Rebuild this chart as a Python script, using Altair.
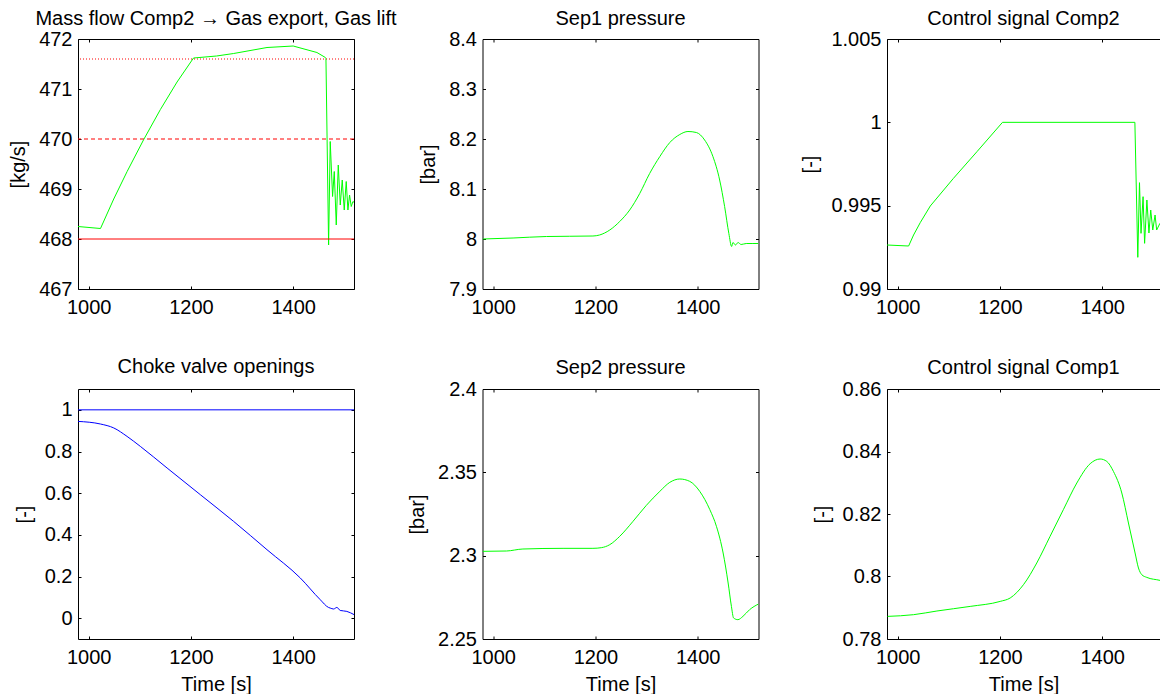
import altair as alt
import pandas as pd

# ---------------- data ----------------
XTICKS = [1000, 1200, 1400]
XMIN, XMAX = 979, 1519

flow_t = [979, 1023, 1048.9, 1075.1, 1107.6, 1140.2, 1172.8, 1205, 1250, 1283.5,
          1348.8, 1400, 1446.5, 1463, 1464.1, 1469.3, 1472.5, 1477.1, 1480.4, 1484.3,
          1488.2, 1492.1, 1496, 1499.9, 1503.8, 1507.1, 1510.3, 1513.6, 1516.9, 1519.5]
flow_v = [468.25, 468.21, 468.80, 469.35, 469.99, 470.59, 471.14, 471.62, 471.66, 471.71,
          471.83, 471.86, 471.73, 471.63, 471.61, 467.88, 469.95, 468.85, 469.35, 468.28,
          469.48, 468.68, 469.18, 468.58, 469.15, 468.58, 468.88, 468.65, 468.75, 468.73]
flow_limit_solid = [468.0]
flow_limit_dashed = [470.0]
flow_limit_dotted = [471.6]

sep1_t = [979, 1038.8, 1104, 1195, 1208, 1228, 1247.5, 1267, 1286.6, 1306,
          1326, 1345.5, 1365, 1381, 1397.4, 1413.6, 1429.8, 1443, 1452.7, 1461,
          1466.4, 1469, 1474, 1479, 1485, 1495, 1508, 1519]
sep1_v = [8.000, 8.002, 8.005, 8.006, 8.008, 8.018, 8.035, 8.058, 8.091, 8.131,
          8.165, 8.193, 8.209, 8.215, 8.213, 8.198, 8.165, 8.118, 8.065, 8.011,
          7.985, 7.993, 7.988, 7.993, 7.989, 7.991, 7.991, 7.991]

comp2_t = [979, 1021.3, 1031, 1044, 1063.7, 1109, 1155, 1205, 1464, 1469.7,
           1473, 1476, 1480, 1483, 1487.5, 1491.5, 1495, 1499, 1503.5, 1506.6,
           1513, 1519]
comp2_v = [0.99264, 0.99258, 0.99324, 0.99398, 0.99498, 0.99664, 0.99824, 1.0, 1.0, 0.99190,
           0.99638, 0.99334, 0.99554, 0.99274, 0.99534, 0.99336, 0.99474, 0.99354, 0.99444, 0.99354,
           0.99394, 0.99400]

choke1_t = [979, 1022.9, 1049, 1075, 1101, 1153.3, 1218.4, 1283.5, 1348.8, 1414,
            1453, 1469, 1472.5, 1479, 1485.6, 1492, 1505, 1519.5]
choke1_v = [0.9445, 0.932, 0.913, 0.8725, 0.8245, 0.7208, 0.5926, 0.4645, 0.3286, 0.1927,
            0.0885, 0.0516, 0.0485, 0.044, 0.0516, 0.0371, 0.0325, 0.0165]
choke2_t = [979, 1519]
choke2_v = [1.0, 1.0]

sep2_t = [979, 1026, 1058, 1136.6, 1195, 1211.6, 1228, 1247.5, 1273.5, 1299.6,
          1326, 1345.5, 1365, 1384.4, 1404, 1423.8, 1436.7, 1449.8, 1459.6, 1466,
          1470.3, 1478.7, 1488.6, 1501.6, 1519]
sep2_v = [2.3026, 2.3028, 2.3040, 2.3044, 2.3044, 2.3048, 2.3066, 2.3116, 2.3206, 2.3302,
          2.3386, 2.3440, 2.3460, 2.3446, 2.3386, 2.3276, 2.3176, 2.3016, 2.2836, 2.2696,
          2.2626, 2.2616, 2.2636, 2.2676, 2.2710]

comp1_t = [980, 1031, 1076.7, 1141.8, 1200.5, 1220, 1246, 1272, 1298, 1324,
           1350.4, 1376.5, 1396, 1409, 1422, 1438.4, 1451.4, 1464.4, 1471, 1477.5,
           1487.3, 1513.3, 1519]
comp1_v = [0.78724, 0.78778, 0.78896, 0.79043, 0.79203, 0.79312, 0.79738, 0.80432, 0.81283, 0.82138,
           0.82992, 0.83610, 0.83760, 0.83683, 0.83363, 0.82672, 0.81712, 0.80752, 0.80272, 0.80058,
           0.79971, 0.79875, 0.79850]

# ---------------- styling ----------------
FONT = "Liberation Sans"
FS = 20
TICK = 3
W = 276
W3 = 273
H = 250


def df(t, v):
    return pd.DataFrame({"t": t, "v": v})


def common_axis(**kw):
    base = dict(
        grid=True, gridDash=[TICK, 3000], gridColor="black", gridOpacity=1, gridWidth=1,
        ticks=False, tickSize=0, domain=True, domainColor="black", domainWidth=1,
        labelFont=FONT, labelFontSize=FS, labelColor="black",
        titleFont=FONT, titleFontSize=FS, titleFontWeight="normal", titleColor="black",
        format=".6~g",
    )
    base.update(kw)
    return alt.Axis(**base)


def panel(series, ydomain, yticks, ytitle, title, xtitle, width, xmax, title_offset,
          right_axis=True):
    xs = alt.Scale(domain=[XMIN, xmax], nice=False, zero=False)
    ys = alt.Scale(domain=ydomain, nice=False, zero=False)
    layers = []
    for i, (data, color, dash, interp, kind) in enumerate(series):
        if i == 0:
            xa = common_axis(orient="bottom", values=XTICKS, title=xtitle, labelPadding=8,
                             titlePadding=7)
            ya = common_axis(orient="left", values=yticks, title=ytitle, labelPadding=6,
                             titlePadding=10)
        else:
            xa = None
            ya = None
        props = dict(color=color, strokeWidth=1, clip=True)
        if dash:
            props["strokeDash"] = dash
        if kind == "rule":
            layer = alt.Chart(data).mark_rule(**props).encode(
                y=alt.Y("v:Q", scale=ys, axis=ya))
        else:
            props["interpolate"] = interp
            layer = alt.Chart(data).mark_line(**props).encode(
                x=alt.X("t:Q", scale=xs, axis=xa),
                y=alt.Y("v:Q", scale=ys, axis=ya))
        layers.append(layer)
    frame_data = series[0][0]
    top_axis = common_axis(orient="top", values=XTICKS, labels=False, title=None)
    if right_axis:
        right = alt.Y("v:Q", scale=ys,
                      axis=common_axis(orient="right", values=yticks, labels=False, title=None))
    else:
        right = alt.Y("v:Q", scale=ys, axis=None)
    frame = alt.Chart(frame_data).mark_line(opacity=0, clip=True).encode(
        x=alt.X("t:Q", scale=xs, axis=top_axis), y=right)
    layers.append(frame)
    return alt.layer(*layers).resolve_axis(x="independent", y="independent").properties(
        width=width, height=H,
        title=alt.TitleParams(title, font=FONT, fontSize=FS, fontWeight="normal",
                              color="black", offset=title_offset, anchor="middle",
                              frame="group"))


GREEN = "#00ff00"
RED = "#ff0000"
BLUE = "#0000ff"

xmax3 = XMIN + W3 * (XMAX - XMIN) / W

p1 = panel([
    (df(flow_t, flow_v), GREEN, None, "linear", "line"),
    (pd.DataFrame({"v": flow_limit_solid}), RED, None, None, "rule"),
    (pd.DataFrame({"v": flow_limit_dashed}), RED, [4, 3], None, "rule"),
    (pd.DataFrame({"v": flow_limit_dotted}), RED, [1, 2], None, "rule"),
], [467, 472], [467, 468, 469, 470, 471, 472], "[kg/s]",
    "Mass flow Comp2 \u2192 Gas export, Gas lift", None, W, XMAX, 0)

p2 = panel([(df(sep1_t, sep1_v), GREEN, None, "monotone", "line")],
           [7.9, 8.4], [7.9, 8.0, 8.1, 8.2, 8.3, 8.4], "[bar]", "Sep1 pressure", None,
           W, XMAX, 0)

p3 = panel([(df(comp2_t, comp2_v), GREEN, None, "linear", "line")],
           [0.99, 1.005], [0.99, 0.995, 1.0, 1.005], "[-]", "Control signal Comp2", None,
           W3, xmax3, 0, right_axis=False)

p4 = panel([(df(choke1_t, choke1_v), BLUE, None, "monotone", "line"),
            (df(choke2_t, choke2_v), BLUE, None, "linear", "line")],
           [-0.1, 1.1], [0, 0.2, 0.4, 0.6, 0.8, 1.0], "[-]", "Choke valve openings",
           "Time [s]", W, XMAX, 12)

p5 = panel([(df(sep2_t, sep2_v), GREEN, None, "monotone", "line")],
           [2.25, 2.4], [2.25, 2.3, 2.35, 2.4], "[bar]", "Sep2 pressure", "Time [s]",
           W, XMAX, 1)

p6 = panel([(df(comp1_t, comp1_v), GREEN, None, "monotone", "line")],
           [0.78, 0.86], [0.78, 0.8, 0.82, 0.84, 0.86], "[-]", "Control signal Comp1",
           "Time [s]", W3, xmax3, 1, right_axis=False)

chart = alt.concat(p1, p2, p3, p4, p5, p6, columns=3,
                   spacing={"row": 100, "column": 128.5}, bounds="flush").properties(
    padding={"left": 8, "top": 9, "right": 0, "bottom": 0},
    background="white",
).configure_view(strokeWidth=0)

chart.save("out.html", embed_options={"renderer": "svg", "actions": False})
